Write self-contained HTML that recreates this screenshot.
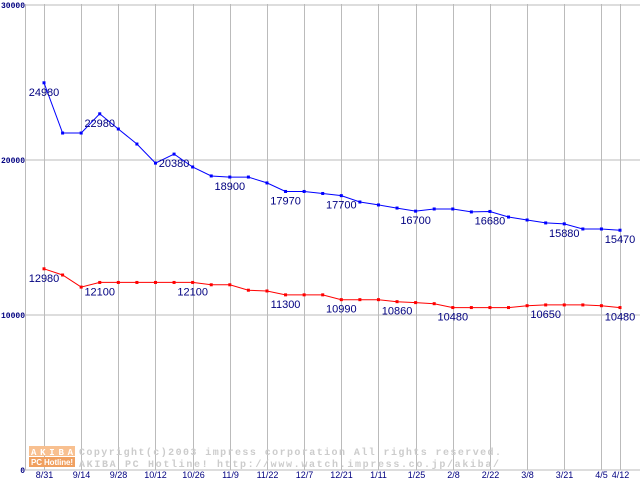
<!DOCTYPE html>
<html><head><meta charset="utf-8"><style>
html,body{margin:0;padding:0;background:#fff;}
svg{display:block;font-family:"Liberation Sans",sans-serif;}
</style></head><body>
<svg id="chart" width="640" height="480">
<rect x="0" y="0" width="640" height="480" fill="#fff"/>
<g id="grid"></g>
<g id="logo">
<rect x="29" y="446" width="46" height="10" fill="#f8c090"/>
<rect x="29" y="457" width="46" height="10" fill="#f0a060"/>
<text x="31" y="455" font-size="9" font-weight="bold" fill="#fff" font-family="Liberation Mono,monospace" textLength="42">AKIBA</text>
<text x="31" y="465" font-size="8" font-weight="bold" fill="#fff" textLength="42">PC Hotline!</text>
<text x="79" y="455" font-size="10" font-weight="bold" fill="#cccccc" font-family="Liberation Mono,monospace" textLength="422">Copyright(c)2003 impress corporation All rights reserved.</text>
<text x="79" y="467" font-size="10" font-weight="bold" fill="#cccccc" font-family="Liberation Mono,monospace" textLength="420">AKIBA PC Hotline!  http://www.watch.impress.co.jp/akiba/</text>
</g>
<g id="series"></g>
</svg>
<script>
const blueValues=[24980,21740,21740,22980,22000,21030,19800,20380,19550,18970,18900,18900,18520,17970,17970,17840,17700,17290,17100,16900,16700,16840,16840,16650,16680,16320,16130,15940,15880,15550,15550,15470];
const redValues=[12980,12580,11800,12100,12100,12100,12100,12100,12100,11950,11950,11600,11550,11300,11300,11300,10990,10990,10990,10860,10800,10730,10480,10480,10480,10480,10600,10650,10650,10650,10600,10480];
const blueLabelIdx=[0,3,7,10,13,16,20,24,28,31];
const redLabelIdx=[0,3,8,13,16,19,22,27,31];
const xTickIdx=[0,2,4,6,8,10,12,14,16,18,20,22,24,26,28,30,31];
const xTickLabels=["8/31","9/14","9/28","10/12","10/26","11/9","11/22","12/7","12/21","1/11","1/25","2/8","2/22","3/8","3/21","4/5","4/12"];
const yTicks=[0,10000,20000,30000];
const NS="http://www.w3.org/2000/svg";
const X=i=>44+i*(576/31);
const Y=v=>470-v*0.0155;
function mk(tag,attrs,parent){const e=document.createElementNS(NS,tag);for(const k in attrs)e.setAttribute(k,attrs[k]);parent.appendChild(e);return e;}
const grid=document.getElementById('grid');
yTicks.forEach(v=>{
 const l=mk('line',{x1:25,x2:640,y1:Y(v),y2:Y(v),stroke:'#bbb','stroke-width':1},grid);
 
 
 const t=mk('text',{x:25,y:Y(v)+3,'font-size':8,'font-weight':'bold',fill:'#000080','text-anchor':'end','font-family':'Liberation Mono,monospace'},grid);
 t.textContent=v;
 
 
});
const ax=mk('line',{x1:25.5,x2:25.5,y1:4,y2:470,stroke:'#bbb'},grid);


xTickIdx.forEach((idx,k)=>{
 const x=Math.round(X(idx))+0.5;
 const l=mk('line',{x1:x,x2:x,y1:4,y2:470,stroke:'#bbb'},grid);
 
 
 const t=mk('text',{x:x,y:478,'font-size':9,fill:'#000080','text-anchor':'middle'},grid);
 t.textContent=xTickLabels[k];
 
 
});
const ser=document.getElementById('series');
function draw(vals,color,labels,name){
 const pts=vals.map((v,i)=>X(i).toFixed(1)+','+Y(v).toFixed(1)).join(' ');
 const pl=mk('polyline',{points:pts,fill:'none',stroke:color,'stroke-width':1},ser);
 
 
 vals.forEach((v,i)=>{
  const r=mk('rect',{x:X(i)-1.5,y:Y(v)-1.5,width:3,height:3,fill:color},ser);
  
  
 });
 labels.forEach(i=>{
  const t=mk('text',{x:X(i),y:Y(vals[i])+13,'font-size':11,fill:'#000080','text-anchor':'middle'},ser);
  t.textContent=vals[i];
  
  
 });
}
draw(blueValues,'#0000ff',blueLabelIdx,'blue-series');
draw(redValues,'#ff0000',redLabelIdx,'red-series');
</script>
</body></html>
